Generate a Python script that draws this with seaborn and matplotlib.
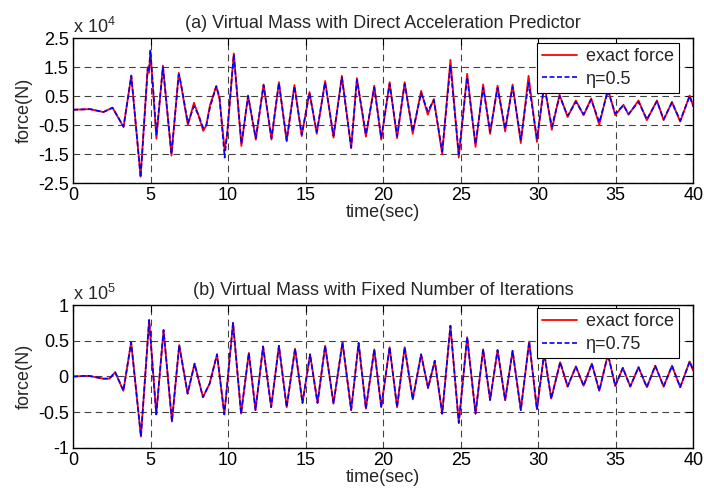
import numpy as np
import pandas as pd
import matplotlib
matplotlib.use("Agg")
import matplotlib.pyplot as plt
import seaborn as sns

# -------------------------------
# Data (force in units of 1e4 N for (a), 1e5 N for (b))
# -------------------------------
time_a = [0.0, 1.1, 1.96, 2.55, 3.26, 3.76, 4.36, 4.82, 4.9, 4.99, 5.38, 5.8,
          6.35, 6.82, 6.95, 7.41, 7.8, 8.08, 8.4, 8.6, 8.83, 9.24, 9.45, 9.78,
          9.94, 10.37, 10.86, 11.29, 11.79, 12.29, 12.8, 13.28, 13.78, 14.28,
          14.75, 15.25, 15.72, 16.26, 16.8, 17.34, 17.94, 18.31, 18.89, 19.43,
          19.88, 20.42, 20.9, 21.39, 21.91, 22.45, 22.88, 23.27, 23.81, 24.34,
          24.88, 25.42, 25.96, 26.45, 26.9, 27.38, 27.87, 28.35, 28.88, 29.38,
          29.92, 30.39, 30.88, 31.38, 31.9, 32.43, 32.93, 33.42, 33.94, 34.5,
          34.97, 35.5, 35.83, 36.47, 37.01, 37.66, 38.09, 38.63, 39.16, 39.77,
          40.0]
exact_a = [0.03, 0.05, -0.05, 0.1, -0.57, 1.21, -2.28, 1.5, 1.3, 2.05, -0.97,
           1.55, -1.55, 1.3, 0.95, -0.5, 0.27, -0.14, -0.7, -0.5, 0.18, 0.84,
           0.4, -1.35, -0.85, 1.97, -1.22, 0.52, -1.0, 0.9, -1.0, 0.98, -1.06,
           0.88, -0.88, 0.64, -0.8, 1.02, -0.93, 1.2, -1.3, 1.12, -0.9, 0.86,
           -1.0, 0.98, -0.95, 0.98, -0.8, 0.68, -0.14, 0.4, -1.5, 1.75, -1.62,
           1.27, -1.25, 0.9, -0.8, 0.86, -0.72, 0.9, -1.12, 1.2, -1.08, 0.95,
           -0.66, 0.55, -0.22, 0.35, -0.16, 0.42, -0.49, 0.75, -0.16, 0.2,
           -0.14, 0.35, -0.33, 0.35, -0.33, 0.3, -0.38, 0.52, 0.15]
eta_a = [0.03, 0.05, -0.05, 0.1, -0.55, 1.2, -2.3, 1.45, 1.35, 2.1, -0.83,
         1.5, -1.5, 1.25, 0.95, -0.43, 0.15, -0.14, -0.6, -0.5, 0.1, 0.84,
         0.45, -1.62, -0.77, 1.94, -1.15, 0.5, -0.95, 0.88, -0.95, 0.95, -1.02,
         0.84, -0.83, 0.6, -0.74, 0.97, -0.87, 1.14, -1.27, 1.06, -0.82, 0.8,
         -0.94, 0.92, -0.88, 0.92, -0.72, 0.6, -0.02, 0.36, -1.41, 1.54, -1.5,
         1.15, -1.15, 0.8, -0.72, 0.78, -0.62, 0.82, -1.0, 0.96, -0.95, 0.85,
         -0.55, 0.5, -0.18, 0.3, -0.13, 0.38, -0.4, 0.68, -0.1, 0.18, -0.12,
         0.3, -0.3, 0.32, -0.3, 0.28, -0.35, 0.5, 0.15]

time_b = [0.0, 1.0, 1.96, 2.35, 2.72, 3.25, 3.75, 4.38, 4.91, 5.37, 5.84, 6.38,
          6.85, 7.39, 7.84, 8.38, 8.81, 9.29, 9.76, 10.32, 10.84, 11.34, 11.77,
          12.26, 12.78, 13.28, 13.78, 14.32, 14.8, 15.29, 15.77, 16.26, 16.8,
          17.38, 17.94, 18.42, 18.89, 19.43, 19.88, 20.42, 20.9, 21.39, 21.91,
          22.45, 22.9, 23.33, 23.81, 24.34, 24.88, 25.42, 25.96, 26.45, 26.9,
          27.38, 27.87, 28.35, 28.88, 29.42, 29.92, 30.39, 30.84, 31.42, 31.9,
          32.43, 32.93, 33.46, 33.94, 34.5, 34.97, 35.46, 35.94, 36.47, 37.01,
          37.55, 38.09, 38.63, 39.16, 39.77, 40.0]
exact_b = [0.0, 0.01, -0.03, -0.03, 0.06, -0.2, 0.48, -0.84, 0.79, -0.53, 0.65,
           -0.63, 0.44, -0.24, 0.18, -0.29, -0.1, 0.31, -0.53, 0.75, -0.52,
           0.33, -0.47, 0.42, -0.43, 0.43, -0.43, 0.39, -0.37, 0.31, -0.37,
           0.43, -0.38, 0.48, -0.47, 0.47, -0.45, 0.38, -0.43, 0.41, -0.43,
           0.41, -0.32, 0.31, -0.16, 0.22, -0.52, 0.71, -0.65, 0.55, -0.52,
           0.38, -0.33, 0.37, -0.33, 0.36, -0.47, 0.49, -0.46, 0.33, -0.31,
           0.2, -0.14, 0.14, -0.13, 0.18, -0.2, 0.31, -0.13, 0.12, -0.14, 0.13,
           -0.15, 0.15, -0.14, 0.15, -0.15, 0.21, 0.08]
eta_b = list(exact_b)   # practically identical to the exact force

xticks = [0, 5, 10, 15, 20, 25, 30, 35, 40]
yticks_a = [-2.5, -1.5, -0.5, 0.5, 1.5, 2.5]
ytick_labels_a = ["-2.5", "-1.5", "-0.5", "0.5", "1.5", "2.5"]
yticks_b = [-1, -0.5, 0, 0.5, 1]
ytick_labels_b = ["-1", "-0.5", "0", "0.5", "1"]

# -------------------------------
# Style
# -------------------------------
sns.set_style("white")
plt.rcParams['font.family'] = ['Liberation Sans', 'DejaVu Sans']
plt.rcParams['font.size'] = 13
plt.rcParams['mathtext.fontset'] = 'custom'
plt.rcParams['mathtext.rm'] = 'Liberation Sans'

fig = plt.figure(figsize=(7.04, 4.91), dpi=100)
ax_a = fig.add_axes([0.1037, 0.627, 0.881, 0.2955])
ax_b = fig.add_axes([0.1037, 0.0876, 0.881, 0.2912])


def draw_panel(ax, t, exact, eta, eta_label, title, yticks, ylabels, ylim,
               exponent, legend_top):
    df = pd.DataFrame({"time": t + t,
                       "force": exact + eta,
                       "series": ["exact force"] * len(t) + [eta_label] * len(t)})
    sns.lineplot(data=df[df.series == "exact force"], x="time", y="force",
                 ax=ax, color="#ff0000", lw=1.3, label="exact force")
    sns.lineplot(data=df[df.series == eta_label], x="time", y="force",
                 ax=ax, color="#0000ff", lw=1.2, label=eta_label,
                 dashes=False, linestyle=(0, (3, 1.5)))
    ax.set_xlim(0, 40)
    ax.set_ylim(*ylim)
    ax.set_xticks(xticks)
    ax.set_xticklabels([str(x) for x in xticks])
    ax.set_yticks(yticks)
    ax.set_yticklabels(ylabels)
    ax.grid(True, color="k", linestyle=(0, (6, 4)), lw=0.8, alpha=0.75)
    ax.tick_params(direction="in", top=True, right=True, length=5,
                   width=0.8, pad=3, labelsize=13, colors="k")
    for s in ax.spines.values():
        s.set_color("k")
        s.set_linewidth(1.0)
    ax.set_xlabel("time(sec)", fontsize=13, labelpad=0)
    ax.set_ylabel("force(N)", fontsize=13, labelpad=4)
    ax.set_title(title, fontsize=13, pad=7)
    ax.text(0.0, 1.005, r"x 10$^{%d}$" % exponent, transform=ax.transAxes,
            ha="left", va="bottom", fontsize=13)
    leg = ax.legend(loc="upper right", bbox_to_anchor=(0.977, legend_top),
                    borderaxespad=0, frameon=True, fancybox=False,
                    edgecolor="k", framealpha=1, fontsize=13,
                    handlelength=1.9, borderpad=0.3, labelspacing=0.3,
                    handletextpad=0.5)
    leg.get_frame().set_linewidth(0.8)


draw_panel(ax_a, time_a, exact_a, eta_a, "\u03b7=0.5",
           "(a) Virtual Mass with Direct Acceleration Predictor",
           yticks_a, ytick_labels_a, (-2.5, 2.5), 4, 0.966)
draw_panel(ax_b, time_b, exact_b, eta_b, "\u03b7=0.75",
           "(b) Virtual Mass with Fixed Number of Iterations",
           yticks_b, ytick_labels_b, (-1, 1), 5, 0.979)

fig.savefig("out.png", dpi=100)
